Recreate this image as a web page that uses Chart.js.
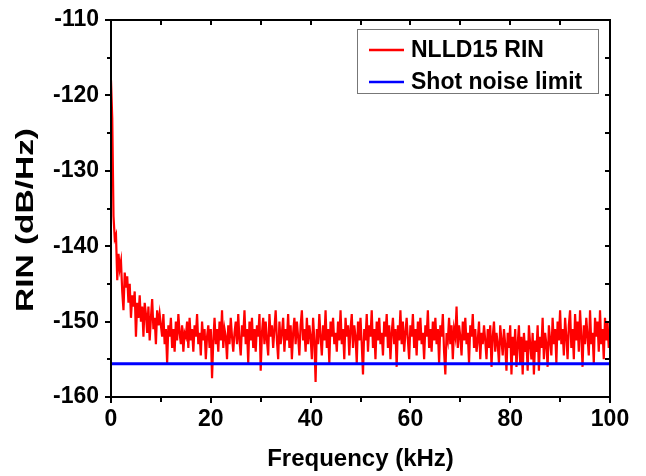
<!DOCTYPE html>
<html>
<head>
<meta charset="utf-8">
<script src="https://cdn.jsdelivr.net/npm/chart.js@4.4.1/dist/chart.umd.min.js"></script>
<style>
  html, body { margin: 0; padding: 0; background: #fff; }
  #wrap { width: 646px; height: 476px; }
</style>
</head>
<body>
<div id="wrap"><canvas id="rinChart" width="646" height="476"></canvas></div>
<script>
// 頻率軸 (kHz)
const freqMin = 0, freqMax = 100, freqStep = 0.25;
const rinMin = -160, rinMax = -110;
const seriesNames = ['NLLD15 RIN', 'Shot noise limit'];
const seriesColors = ['#ff0000', '#0000ff'];
const shotNoiseLevel = -155.6;
// RIN 量測值，每 0.25 kHz 一點
const rinValues = [
  -118, -123, -136, -139, -138.5, -144.5, -141, -143, -142, -146, -148.5, -143.5, -145.5, -144, -147.5, -145, -149.5, -146.5, -148, -146,
  -152, -147.5, -149.5, -146.5, -150, -148, -152, -147.5, -149, -151.5, -148, -152.5, -149.5, -147, -151, -149.5, -153, -148.5, -150.5, -149,
  -150.5, -152, -149, -153, -151, -155.5, -150.5, -152, -149.5, -153.5, -151, -154, -150, -152.5, -149, -151.5, -153, -150.5, -154, -151.5,
  -152, -150, -153.5, -149.5, -152.5, -151, -154, -150.5, -152, -149, -153, -151.5, -154.5, -150, -152.5, -151, -155, -152, -150.5, -153.5,
  -151, -157.5, -152.5, -149.5, -153, -151, -154, -150, -152.5, -148.5, -153.5, -151, -152, -155, -150.5, -153, -149.5, -152, -154, -151.5,
  -150, -153, -149, -152.5, -154.5, -150.5, -152, -148.5, -153, -151, -155.5, -150, -152.5, -149.5, -153.5, -151, -154, -150.5, -152, -149,
  -156.5, -151.5, -149.5, -153, -150, -152.5, -154.5, -149, -152, -150.5, -153.5, -151, -148.5, -152.5, -155, -150, -153, -151.5, -149.5, -154,
  -151, -152.5, -149, -153.5, -150.5, -155, -151.5, -149.5, -153, -150, -152, -154.5, -150.5, -148.5, -152.5, -151, -154, -149.5, -153, -150.5,
  -152, -155, -149.5, -152.5, -158, -151, -153, -149, -152, -154.5, -150.5, -152.5, -148.5, -153.5, -151, -155.5, -150, -152, -149.5, -153,
  -151.5, -154, -150, -152.5, -148.5, -153, -151, -155, -149.5, -152, -150.5, -154.5, -151, -149, -153.5, -150.5, -152, -155.5, -150, -152.5,
  -149.5, -153, -157, -151, -152.5, -149, -154, -150.5, -152, -148.5, -153.5, -151, -155, -150, -152.5, -149.5, -153, -151.5, -154.5, -150,
  -152, -149, -153.5, -150.5, -155, -151.5, -149.5, -153, -151, -156, -150.5, -152.5, -148.5, -153, -150, -154, -151.5, -149.5, -152.5, -155,
  -150.5, -152, -149, -153.5, -151, -154.5, -150, -152.5, -149.5, -153, -151.5, -155, -150.5, -152, -148.5, -153.5, -151, -154, -150, -152.5,
  -149.5, -153, -151, -155.5, -150.5, -152, -149, -154, -157, -151.5, -152.5, -149.5, -153, -150.5, -155, -151, -152, -148, -153.5, -150.5,
  -152, -154.5, -150, -152.5, -149.5, -153, -151.5, -155.5, -150.5, -152, -149, -153.5, -151, -154, -152.5, -150, -155, -151.5, -153, -150.5,
  -152.5, -155, -151, -153.5, -150.5, -156, -152, -150, -154, -151.5, -153, -155.5, -150.5, -152.5, -154.5, -151, -153, -156.5, -151.5, -153.5,
  -150.5, -157, -152, -154.5, -151, -156, -153, -150.5, -155.5, -152, -157, -151.5, -154, -152.5, -156.5, -150.5, -153, -155, -151.5, -157,
  -152.5, -154, -150.5, -156.5, -152, -153.5, -149.5, -155, -151.5, -153, -156, -150.5, -152.5, -154.5, -149.5, -153, -151, -155.5, -150, -152.5,
  -148.5, -153, -151, -154.5, -149.5, -152, -155, -150.5, -148.5, -153.5, -151, -155, -149, -152.5, -150, -154, -148.5, -152, -156, -150.5,
  -153, -149.5, -152, -154.5, -148.5, -153, -151.5, -155.5, -149.5, -152, -150, -154, -148.5, -153, -151, -155, -149.5, -152.5, -150, -153.5,
  -151.5
];

const fontFam = '"Liberation Sans", Arial, sans-serif';
const rinPoints = rinValues.map((v, i) => ({ x: freqMin + i * freqStep, y: v }));
const shotPoints = [{ x: freqMin, y: shotNoiseLevel }, { x: freqMax, y: shotNoiseLevel }];

// 外框與刻度（下、左向外；上、右向內）
const framePlugin = {
  id: 'frame',
  afterDatasetsDraw(chart) {
    const { ctx, chartArea: a, scales: { x, y } } = chart;
    ctx.save();
    ctx.strokeStyle = '#000';
    ctx.lineWidth = 2;
    ctx.strokeRect(a.left, a.top, a.right - a.left, a.bottom - a.top);
    ctx.beginPath();
    for (let v = freqMin; v <= freqMax; v += 10) {
      const px = Math.round(x.getPixelForValue(v));
      const len = (v % 20 === 0) ? 6 : 5;
      ctx.moveTo(px, a.bottom); ctx.lineTo(px, a.bottom + len);
      ctx.moveTo(px, a.top); ctx.lineTo(px, a.top + 5);
    }
    for (let v = rinMin; v <= rinMax; v += 5) {
      const py = Math.round(y.getPixelForValue(v));
      const len = (v % 10 === 0) ? 6 : 4;
      ctx.moveTo(a.left, py); ctx.lineTo(a.left - len, py);
      ctx.moveTo(a.right, py); ctx.lineTo(a.right - 5, py);
    }
    ctx.stroke();
    ctx.restore();
  }
};

// 圖例方框
const legendPlugin = {
  id: 'boxLegend',
  afterDraw(chart) {
    const { ctx } = chart;
    const bx = 357, by = 29, bw = 241, bh = 64;
    ctx.save();
    ctx.fillStyle = '#fff';
    ctx.fillRect(bx, by, bw, bh);
    ctx.strokeStyle = '#777';
    ctx.lineWidth = 1;
    ctx.strokeRect(bx + 0.5, by + 0.5, bw, bh);
    ctx.font = 'bold 23px ' + fontFam;
    ctx.textBaseline = 'middle';
    chart.data.datasets.forEach((ds, i) => {
      const ly = by + 21 + i * 32;
      ctx.strokeStyle = ds.borderColor;
      ctx.lineWidth = 2.5;
      ctx.beginPath();
      ctx.moveTo(bx + 12, ly); ctx.lineTo(bx + 47, ly);
      ctx.stroke();
      ctx.fillStyle = '#000';
      ctx.fillText(ds.label, bx + 54, ly + 1);
    });
    ctx.restore();
  }
};

// Y 軸標題（原圖被拉長）
const yTitlePlugin = {
  id: 'yTitle',
  afterDraw(chart) {
    const { ctx } = chart;
    const txt = 'RIN (dB/Hz)';
    ctx.save();
    ctx.font = 'bold 23px ' + fontFam;
    const w = ctx.measureText(txt).width;
    ctx.translate(27, 220);
    ctx.rotate(-Math.PI / 2);
    ctx.scale(184 / w, 1);
    ctx.textAlign = 'center';
    ctx.textBaseline = 'middle';
    ctx.fillStyle = '#000';
    ctx.fillText(txt, 0, 0);
    ctx.restore();
  }
};

const chart = new Chart(document.getElementById('rinChart').getContext('2d'), {
  type: 'line',
  data: {
    datasets: [
      {
        label: seriesNames[0],
        data: rinPoints,
        borderColor: seriesColors[0],
        borderWidth: 2.2,
        pointRadius: 0,
        tension: 0,
        order: 1
      },
      {
        label: seriesNames[1],
        data: shotPoints,
        borderColor: seriesColors[1],
        borderWidth: 3,
        pointRadius: 0,
        order: 0
      }
    ]
  },
  options: {
    responsive: false,
    animation: false,
    layout: { padding: { left: 0, top: 20, right: 36, bottom: 0 } },
    plugins: {
      legend: { display: false },
      tooltip: { enabled: false }
    },
    scales: {
      x: {
        type: 'linear',
        min: freqMin,
        max: freqMax,
        grid: { display: false },
        border: { display: false },
        ticks: {
          stepSize: 20,
          padding: 1,
          color: '#000',
          maxRotation: 0,
          font: { family: fontFam, size: 23, weight: 'bold' }
        },
        title: {
          display: true,
          text: 'Frequency (kHz)',
          color: '#000',
          padding: { top: 0, bottom: 2 },
          font: { family: fontFam, size: 24, weight: 'bold' }
        },
        afterFit(scale) { scale.height = 79; }
      },
      y: {
        min: rinMin,
        max: rinMax,
        grid: { display: false },
        border: { display: false },
        ticks: {
          stepSize: 10,
          padding: 4,
          color: '#000',
          font: { family: fontFam, size: 23, weight: 'bold' }
        },
        afterFit(scale) { scale.width = 111; }
      }
    }
  },
  plugins: [framePlugin, legendPlugin, yTitlePlugin]
});
</script>
</body>
</html>
